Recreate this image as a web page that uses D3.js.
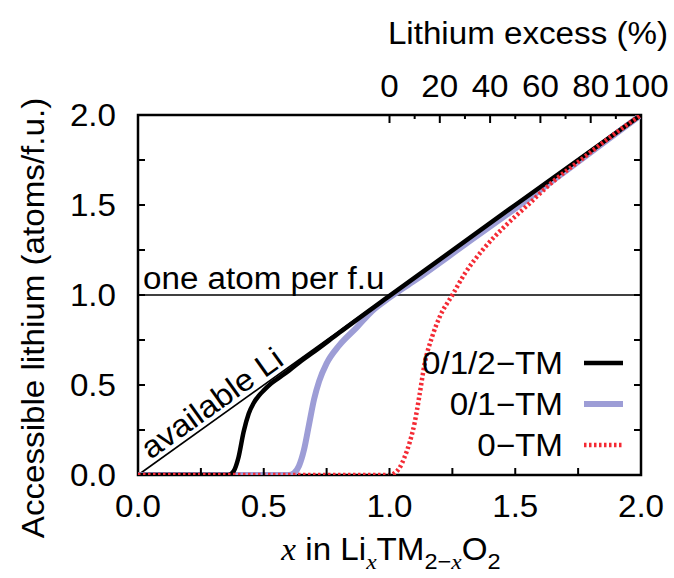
<!DOCTYPE html>
<html>
<head>
<meta charset="utf-8">
<script src="https://cdn.jsdelivr.net/npm/d3@7"></script>
<style>
  body { margin: 0; background: #fff; }
  svg text { font-family: "Liberation Sans", Arial, Helvetica, sans-serif; fill: #000; }
</style>
</head>
<body>
<svg id="chart" width="674" height="578"></svg>
<script>
// ---- data ----
const xTicks = [0, 0.5, 1.0, 1.5, 2.0];
const xMinorTicks = [0.25, 0.75, 1.25, 1.75];
const yTicks = [0, 0.5, 1.0, 1.5, 2.0];
const yMinorTicks = [0.25, 0.75, 1.25, 1.75];
const excessTicks = [0, 20, 40, 60, 80, 100];
const excessMinorTicks = [10, 30, 50, 70, 90];

const seriesNames = ["0/1/2\u2212TM", "0/1\u2212TM", "0\u2212TM"];

// 0/1/2-TM percolation
const x012 = [0, 0.36, 0.38, 0.40, 0.42, 0.44, 0.46, 0.48, 0.50, 0.53, 0.56, 0.60, 0.65, 0.70, 0.80, 1.00, 1.50, 2.00];
const y012 = [0, 0, 0.02, 0.10, 0.24, 0.34, 0.40, 0.44, 0.47, 0.51, 0.54, 0.58, 0.635, 0.685, 0.79, 0.995, 1.50, 2.00];

// 0/1-TM percolation
const x01 = [0, 0.60, 0.62, 0.64, 0.66, 0.68, 0.70, 0.72, 0.75, 0.80, 0.87, 0.93, 1.00, 1.10, 1.30, 1.50, 1.75, 2.00];
const y01 = [0, 0, 0.01, 0.05, 0.14, 0.28, 0.42, 0.52, 0.62, 0.72, 0.82, 0.91, 0.985, 1.08, 1.28, 1.48, 1.74, 2.00];

// 0-TM percolation
const x0 = [0, 1.00, 1.02, 1.04, 1.06, 1.08, 1.10, 1.12, 1.14, 1.17, 1.20, 1.25, 1.30, 1.37, 1.45, 1.55, 1.65, 1.76, 1.88, 2.00];
const y0 = [0, 0, 0.01, 0.04, 0.10, 0.18, 0.29, 0.45, 0.62, 0.77, 0.88, 1.00, 1.12, 1.25, 1.37, 1.50, 1.63, 1.75, 1.88, 2.00];

// reference guides
const availableX = [0, 2];
const availableY = [0, 2];
const oneAtomY = 1;

// ---- layout ----
const svg = d3.select("#chart");
const FS = 31;      // label font size
const SX = 1.07;    // horizontal stretch of the lettering
const M = { left: 138, right: 641, top: 115, bottom: 475 };

const x = d3.scaleLinear().domain([0, 2]).range([M.left, M.right]);
const y = d3.scaleLinear().domain([0, 2]).range([M.bottom, M.top]);
const x2 = d3.scaleLinear().domain([0, 100]).range([x(1), x(2)]);
const fmt = d3.format(".1f");

const styles = [
  { color: "#000000", width: 4.5, dash: null },
  { color: "#9d9dd6", width: 6, dash: null },
  { color: "#f42a34", width: 4.5, dash: "2.5,2.5" }
];

// text placed at (px, py), optionally rotated, with the lettering stretched horizontally
function label(px, py, str, anchor = "start", rot = 0) {
  return svg.append("text")
    .attr("transform", `translate(${px},${py}) rotate(${rot}) scale(${SX},1)`)
    .attr("text-anchor", anchor)
    .attr("font-size", FS)
    .text(str);
}

svg.append("defs").append("clipPath").attr("id", "plot-clip")
  .append("rect")
  .attr("x", M.left).attr("y", M.top)
  .attr("width", M.right - M.left).attr("height", M.bottom - M.top);

// guide lines
svg.append("line")
  .attr("x1", x(availableX[0])).attr("y1", y(availableY[0]))
  .attr("x2", x(availableX[1])).attr("y2", y(availableY[1]))
  .attr("stroke", "#000").attr("stroke-width", 1.6);
svg.append("line")
  .attr("x1", x(0)).attr("x2", x(2))
  .attr("y1", y(oneAtomY)).attr("y2", y(oneAtomY))
  .attr("stroke", "#000").attr("stroke-width", 1.6);

// guide labels
const ang = Math.atan2(y(0) - y(1), x(1) - x(0)) * 180 / Math.PI;
label(x(0.05), y(0.05) - 6, "available Li", "start", -ang);
label(x(0) + 5, y(oneAtomY) - 6, "one atom per f.u");

// frame
svg.append("rect")
  .attr("x", M.left).attr("y", M.top)
  .attr("width", M.right - M.left).attr("height", M.bottom - M.top)
  .attr("fill", "none").attr("stroke", "#000").attr("stroke-width", 2.5);

// curves, clipped to the plot box
const line = d3.line().x(d => x(d[0])).y(d => y(d[1])).curve(d3.curveMonotoneX);
const series = [
  d3.zip(x012, y012),
  d3.zip(x01, y01),
  d3.zip(x0, y0)
];
const curves = svg.append("g").attr("clip-path", "url(#plot-clip)");
[1, 0, 2].forEach(i => {
  curves.append("path")
    .datum(series[i])
    .attr("d", line)
    .attr("fill", "none")
    .attr("stroke", styles[i].color)
    .attr("stroke-width", styles[i].width)
    .attr("stroke-dasharray", styles[i].dash)
    .attr("stroke-linejoin", "round");
});

// ticks (pointing inward)
const tick = (xa, ya, xb, yb) => svg.append("line")
  .attr("x1", xa).attr("y1", ya).attr("x2", xb).attr("y2", yb)
  .attr("stroke", "#000").attr("stroke-width", 2);
const TL = 7;
xTicks.concat(xMinorTicks).forEach(v => {
  if (v > 0 && v < 2) tick(x(v), M.bottom, x(v), M.bottom - TL);
});
yTicks.concat(yMinorTicks).forEach(v => {
  if (v > 0 && v < 2) {
    tick(M.left, y(v), M.left + TL, y(v));
    tick(M.right, y(v), M.right - TL, y(v));
  }
});
excessTicks.forEach(v => { if (v < 100) tick(x2(v), M.top, x2(v), M.top + 8); });
excessMinorTicks.forEach(v => tick(x2(v), M.top, x2(v), M.top + 4));

// tick labels
xTicks.forEach(v => label(x(v), 517, fmt(v), "middle"));
yTicks.forEach(v => label(116, y(v) + 11, fmt(v), "end"));
excessTicks.forEach(v => label(x2(v), 97, String(v), "middle"));

// axis titles
label(668, 44, "Lithium excess (%)", "end");
label(44, 318, "Accessible lithium (atoms/f.u.)", "middle", -90);

const serif = "'Liberation Serif', 'Times New Roman', serif";
const sub = 9, subFS = 22;
const xt = label(391, 560, "", "middle");
xt.append("tspan").attr("font-family", serif).attr("font-style", "italic").text("x");
xt.append("tspan").text(" in Li");
xt.append("tspan").attr("dy", sub).attr("font-size", subFS)
  .attr("font-family", serif).attr("font-style", "italic").text("x");
xt.append("tspan").attr("dy", -sub).text("TM");
xt.append("tspan").attr("dy", sub).attr("font-size", subFS).text("2\u2212");
xt.append("tspan").attr("font-size", subFS)
  .attr("font-family", serif).attr("font-style", "italic").text("x");
xt.append("tspan").attr("dy", -sub).text("O");
xt.append("tspan").attr("dy", sub).attr("font-size", subFS).text("2");

// legend
const legY = [363, 404, 445];
seriesNames.forEach((name, i) => {
  label(563, legY[i] + 11, name, "end");
  svg.append("line")
    .attr("x1", 584).attr("x2", 623)
    .attr("y1", legY[i]).attr("y2", legY[i])
    .attr("stroke", styles[i].color)
    .attr("stroke-width", styles[i].width)
    .attr("stroke-dasharray", styles[i].dash);
});
</script>
</body>
</html>
